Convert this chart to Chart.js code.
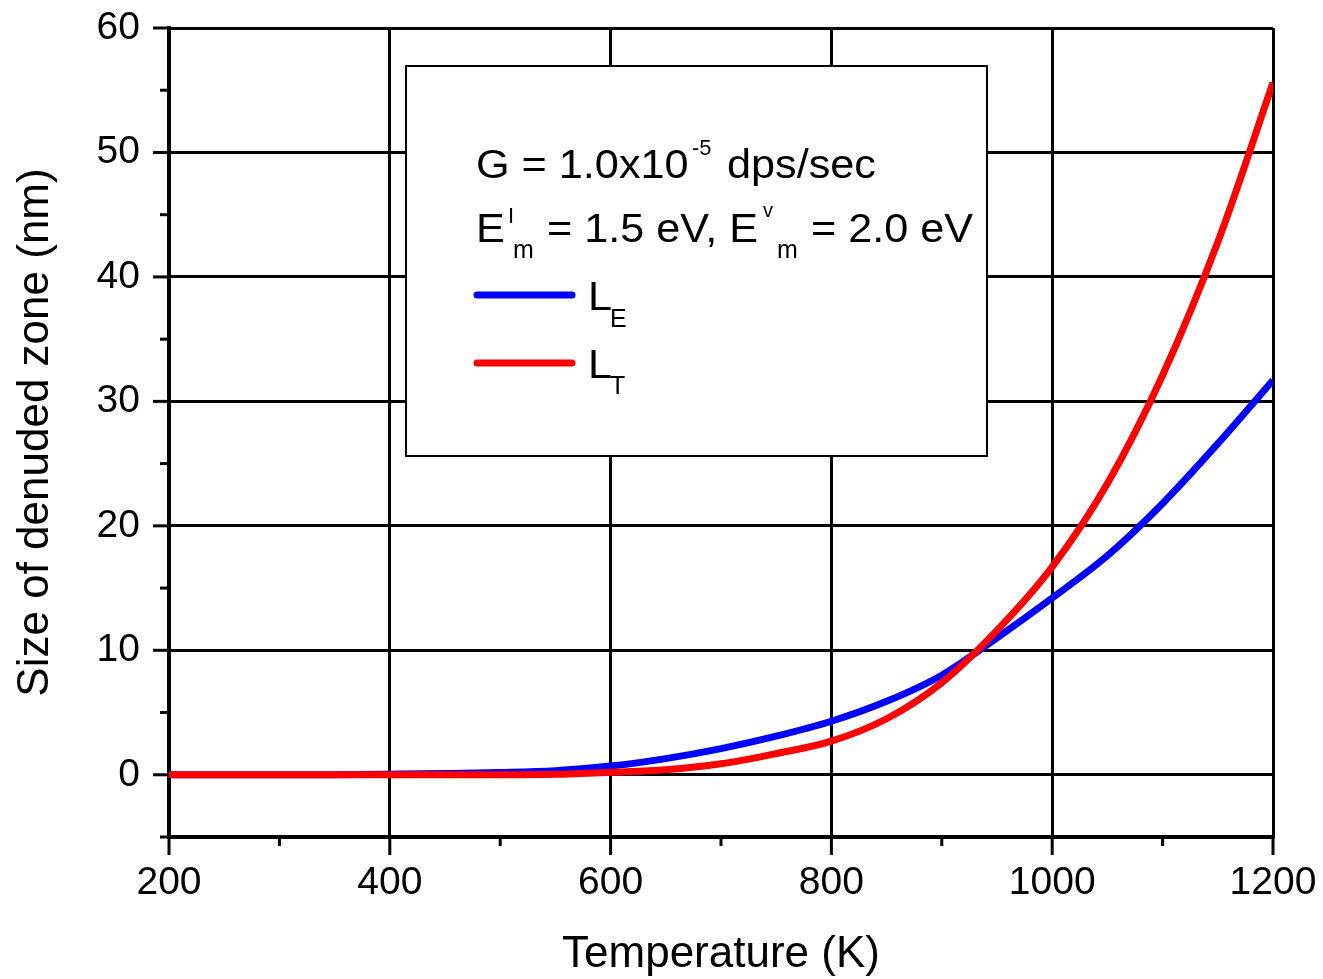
<!DOCTYPE html>
<html><head><meta charset="utf-8">
<script src="https://cdn.jsdelivr.net/npm/chart.js@4.4.1/dist/chart.umd.min.js"></script>
<style>html,body{margin:0;padding:0;background:#fff;}</style>
</head><body>
<canvas id="c" width="1323" height="979" style="display:block;width:1323px;height:979px"></canvas>
<script>
// ---- data ----
const temperatures = [200,250,300,350,400,450,500,550,600,650,700,750,800,850,900,950,1000,1050,1100,1150,1200];
const lengthE = [0,0,0,0.01,0.05,0.1,0.18,0.33,0.7,1.3,2.1,3.1,4.3,5.9,8.0,11.0,14.2,17.6,21.8,26.6,31.7];
const lengthT = [0,0,0,0,0,0,0,0.04,0.2,0.4,0.88,1.7,2.7,4.5,7.4,11.6,16.7,23.4,32.1,42.8,55.6];
const xTickLabels = ['200','400','600','800','1000','1200'];
const yTickLabels = ['0','10','20','30','40','50','60'];

const FONT = "'Liberation Sans', Arial, sans-serif";

const axisTicks = {
  id: 'axisTicks',
  afterDraw(chart) {
    const {ctx, chartArea: a, scales: {x, y}} = chart;
    ctx.save();
    ctx.strokeStyle = '#000'; ctx.lineWidth = 3; ctx.lineCap = 'butt';
    x.ticks.forEach(t => {
      const px = x.getPixelForValue(t.value);
      const len = xTickLabels.includes(String(t.value)) ? 18 : 9;
      ctx.beginPath(); ctx.moveTo(px, a.bottom); ctx.lineTo(px, a.bottom + len); ctx.stroke();
    });
    y.ticks.forEach(t => {
      const py = y.getPixelForValue(t.value);
      const len = yTickLabels.includes(String(t.value)) ? 16 : 9;
      ctx.beginPath(); ctx.moveTo(a.left, py); ctx.lineTo(a.left - len, py); ctx.stroke();
    });
    ctx.restore();
  }
};

function txt(ctx, s, x, y, size, sx) {
  ctx.save();
  ctx.font = size + 'px ' + FONT;
  ctx.textBaseline = 'alphabetic';
  ctx.textAlign = 'left';
  ctx.translate(x, y);
  ctx.scale(sx || 1, 1);
  ctx.fillText(s, 0, 0);
  ctx.restore();
}

const infoBox = {
  id: 'infoBox',
  afterDraw(chart) {
    const ctx = chart.ctx;
    ctx.save();
    ctx.fillStyle = '#fff';
    ctx.fillRect(406, 66, 581, 390);
    ctx.strokeStyle = '#000'; ctx.lineWidth = 2;
    ctx.strokeRect(406, 66, 581, 390);
    ctx.fillStyle = '#000';
    const S = 1.08;
    // line 1
    txt(ctx, 'G = 1.0x10', 476, 178, 40, S);
    txt(ctx, '-5', 692, 155, 22, 1);
    txt(ctx, 'dps/sec', 727, 178, 40, S);
    // line 2
    txt(ctx, 'E', 476, 242, 40, S);
    txt(ctx, 'I', 508, 223, 22, 1);
    txt(ctx, 'm', 513, 258, 25, 1);
    txt(ctx, '= 1.5 eV, E', 547, 242, 40, S);
    txt(ctx, 'v', 763, 217, 20, 1);
    txt(ctx, 'm', 777, 258, 25, 1);
    txt(ctx, '= 2.0 eV', 811, 242, 40, S);
    // legend entries
    const ds = chart.data.datasets;
    const entries = [
      {ds: ds[1], y: 295, base: 310, sub: 'E', subBase: 327},
      {ds: ds[0], y: 363, base: 378, sub: 'T', subBase: 394}
    ];
    entries.forEach(e => {
      ctx.strokeStyle = e.ds.borderColor; ctx.lineWidth = 7; ctx.lineCap = 'round';
      ctx.beginPath(); ctx.moveTo(477, e.y); ctx.lineTo(572, e.y); ctx.stroke();
      ctx.fillStyle = '#000';
      txt(ctx, 'L', 588, e.base, 40, S);
      txt(ctx, e.sub, 610, e.subBase, 25, 1);
    });
    ctx.restore();
  }
};

new Chart(document.getElementById('c'), {
  type: 'line',
  data: {
    datasets: [
      {label: 'L_T', data: temperatures.map((t, i) => ({x: t, y: lengthT[i]})),
       borderColor: '#ff0000', borderWidth: 7, pointRadius: 0, fill: false,
       cubicInterpolationMode: 'monotone', order: 0},
      {label: 'L_E', data: temperatures.map((t, i) => ({x: t, y: lengthE[i]})),
       borderColor: '#0000ff', borderWidth: 7, pointRadius: 0, fill: false,
       cubicInterpolationMode: 'monotone', order: 1}
    ]
  },
  options: {
    responsive: false,
    animation: false,
    devicePixelRatio: 1,
    layout: {padding: {top: 28, right: 50, bottom: 0, left: 0}},
    plugins: {legend: {display: false}, tooltip: {enabled: false}},
    scales: {
      x: {
        type: 'linear', min: 200, max: 1200,
        afterFit: s => { s.height = 142; s.paddingLeft = 0; s.paddingRight = 0; },
        ticks: {
          stepSize: 100, autoSkip: false, maxRotation: 0, padding: 23,
          color: '#000', font: {family: FONT, size: 39},
          callback: v => xTickLabels.includes(String(v)) ? String(v) : ''
        },
        grid: {
          drawTicks: false, lineWidth: 3,
          color: c => (c.tick && xTickLabels.includes(String(c.tick.value))) ? '#000' : 'rgba(0,0,0,0)'
        },
        border: {display: true, color: '#000', width: 4},
        title: {display: true, text: 'Temperature (K)', color: '#000',
                font: {family: FONT, size: 44, lineHeight: 1.1}, padding: {top: 0, bottom: 0}}
      },
      y: {
        type: 'linear', min: -5, max: 60,
        afterFit: s => { s.width = 169; s.paddingTop = 0; s.paddingBottom = 0; },
        ticks: {
          stepSize: 5, autoSkip: false, padding: 29,
          color: '#000', font: {family: FONT, size: 39},
          callback: v => yTickLabels.includes(String(v)) ? String(v) : ''
        },
        grid: {
          drawTicks: false, lineWidth: 3,
          color: c => (c.tick && yTickLabels.includes(String(c.tick.value))) ? '#000' : 'rgba(0,0,0,0)'
        },
        border: {display: true, color: '#000', width: 4},
        title: {display: true, text: 'Size of denuded zone (nm)', color: '#000',
                font: {family: FONT, size: 44, lineHeight: 1.1}, padding: {top: 12, bottom: 0}}
      }
    }
  },
  plugins: [axisTicks, infoBox]
});
</script>
</body></html>
